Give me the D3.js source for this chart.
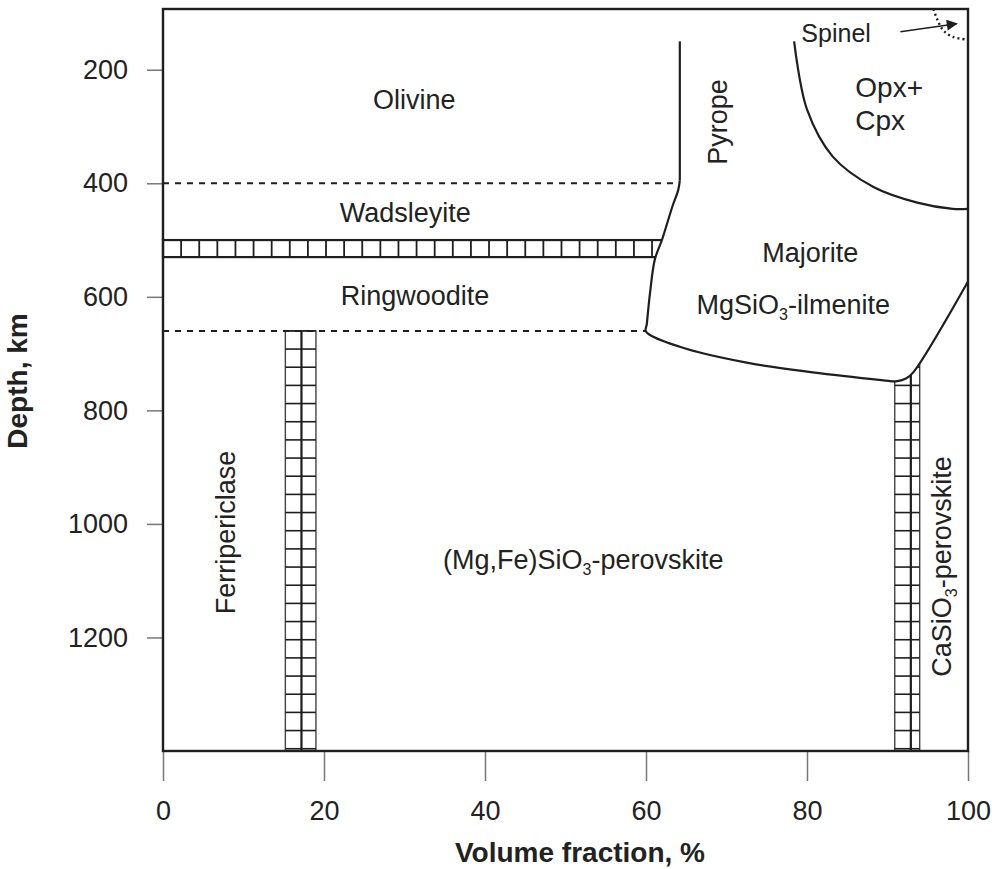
<!DOCTYPE html>
<html>
<head>
<meta charset="utf-8">
<script src="https://cdn.jsdelivr.net/npm/d3@7"></script>
<style>
  html, body { margin: 0; padding: 0; background: #fff; }
  svg text { font-family: Arial, "Liberation Sans", Helvetica, sans-serif; fill: #222; }
</style>
</head>
<body>
<div id="chart"></div>
<script>
// axis ticks
const xTicks = [0, 20, 40, 60, 80, 100];
const depthTicks = [200, 400, 600, 800, 1000, 1200];

// phase boundaries: [volume fraction %, depth km]
const pyropeLine = [[64.2, 150], [64.2, 395]];
const majoriteBoundary = [
  [64.2, 395], [64.0, 412], [63.3, 440], [62.0, 499], [61.1, 534], [60.5, 593],
  [60.1, 648], [60.0, 661], [64.2, 688], [72.5, 716], [80.7, 733],
  [89.5, 747], [91.0, 749], [92.3, 744], [93.2, 733], [100, 573]
];
const opxCpxBoundary = [
  [78.4, 150], [80.0, 270], [83.2, 353], [88.2, 406], [93.7, 434], [98.1, 445], [100, 445]
];
const spinelBoundary = [[95.7, 93], [96.2, 112], [96.9, 130], [98.1, 142], [100, 147]];
const spinelArrow = [[91.6, 133], [98.6, 119]];

// transitions drawn as dashed lines: [depth, x end]
const dashedTransitions = [[400, 64.2], [660, 60.0]];

// hatched (grid) bands
const mixBand = {top: 500, bottom: 530, x0: 0, x1: 64};
const fpColumn = {x0: 15.2, xm: 17.2, x1: 19.0, top: 660};
const caColumn = {x0: 90.9, xm: 92.9, x1: 94.0, top: 690};
const cellWidth = 2.25;   // %
const cellHeight = 32;    // km

// labels: text, x %, depth km
const labels = [
  {t: 'Olivine', x: 31.2, d: 270},
  {t: 'Wadsleyite', x: 30.1, d: 468},
  {t: 'Ringwoodite', x: 31.3, d: 615},
  {t: 'Majorite', x: 80.4, d: 538},
  {t: 'MgSiO|3|-ilmenite', x: 78.3, d: 630},
  {t: '(Mg,Fe)SiO|3|-perovskite', x: 52.2, d: 1080}
];
const rotLabels = [
  {t: 'Pyrope', x: 70.1, d: 292},
  {t: 'Ferripericlase', x: 9.0, d: 1015},
  {t: 'CaSiO|3|-perovskite', x: 97.9, d: 1075}
];

const width = 996;
const height = 869;
const margin = {top: 9, right: 28, bottom: 118, left: 163};

const svg = d3.select('#chart').append('svg')
  .attr('width', width)
  .attr('height', height);

const x = d3.scaleLinear()
  .domain([0, 100])
  .range([margin.left, width - margin.right]);

const y = d3.scaleLinear()
  .domain([93, 1400])
  .range([margin.top, height - margin.bottom]);

const ink = '#1e1e1e';

const line = d3.line()
  .x(d => x(d[0]))
  .y(d => y(d[1]));

const curve = d3.line()
  .x(d => x(d[0]))
  .y(d => y(d[1]))
  .curve(d3.curveCatmullRom.alpha(0.5));

// axes
const xAxis = d3.axisBottom(x)
  .tickValues(xTicks)
  .tickFormat(d3.format('d'))
  .tickSize(30)
  .tickPadding(20);

const yAxis = d3.axisLeft(y)
  .tickValues(depthTicks)
  .tickFormat(d3.format('d'))
  .tickSize(16)
  .tickPadding(19);

const gx = svg.append('g')
  .attr('transform', 'translate(0,' + y(1400) + ')')
  .call(xAxis);

const gy = svg.append('g')
  .attr('transform', 'translate(' + x(0) + ',0)')
  .call(yAxis);

[gx, gy].forEach(g => {
  g.select('.domain').remove();
  g.selectAll('.tick line').attr('stroke', '#777').attr('stroke-width', 1.5);
  g.selectAll('.tick text')
    .attr('font-size', 27)
    .attr('font-family', 'Arial, "Liberation Sans", sans-serif')
    .attr('fill', '#222');
});

// hatched bands
const grid = svg.append('g')
  .attr('stroke', ink)
  .attr('fill', 'none');

grid.append('rect')
  .attr('x', x(mixBand.x0))
  .attr('y', y(mixBand.top))
  .attr('width', x(mixBand.x1) - x(mixBand.x0))
  .attr('height', y(mixBand.bottom) - y(mixBand.top))
  .attr('stroke-width', 2.2);

grid.selectAll('.bandcell')
  .data(d3.range(mixBand.x0 + cellWidth, mixBand.x1, cellWidth))
  .enter().append('line')
    .attr('x1', d => x(d))
    .attr('x2', d => x(d))
    .attr('y1', y(mixBand.top))
    .attr('y2', y(mixBand.bottom))
    .attr('stroke-width', 1.8);

[fpColumn, caColumn].forEach(c => {
  const col = grid.append('g');
  col.append('rect')
    .attr('x', x(c.x0))
    .attr('y', y(c.top))
    .attr('width', x(c.x1) - x(c.x0))
    .attr('height', y(1400) - y(c.top))
    .attr('stroke', '#444')
    .attr('stroke-width', 1.4);
  col.append('line')
    .attr('x1', x(c.xm))
    .attr('x2', x(c.xm))
    .attr('y1', y(c.top))
    .attr('y2', y(1400))
    .attr('stroke-width', 2.2);
  col.selectAll('.row')
    .data(d3.range(660, 1400, cellHeight).filter(d => d >= c.top))
    .enter().append('line')
      .attr('x1', x(c.x0))
      .attr('x2', x(c.x1))
      .attr('y1', d => y(d))
      .attr('y2', d => y(d))
      .attr('stroke-width', 1.6);
});

// white mask over majorite field clips the bands
svg.append('path')
  .datum(majoriteBoundary.concat([[100, 150], [64.2, 150]]))
  .attr('d', curve)
  .attr('fill', '#fff')
  .attr('stroke', 'none');

// dashed transitions
svg.selectAll('.dashed')
  .data(dashedTransitions)
  .enter().append('line')
    .attr('x1', x(0))
    .attr('x2', d => x(d[1]))
    .attr('y1', d => y(d[0]))
    .attr('y2', d => y(d[0]))
    .attr('stroke', ink)
    .attr('stroke-width', 2)
    .attr('stroke-dasharray', '6,6');

// boundaries
svg.append('path')
  .datum(pyropeLine)
  .attr('d', line)
  .attr('fill', 'none')
  .attr('stroke', ink)
  .attr('stroke-width', 2.2);

svg.append('path')
  .datum(majoriteBoundary)
  .attr('d', curve)
  .attr('fill', 'none')
  .attr('stroke', ink)
  .attr('stroke-width', 2.2);

svg.append('path')
  .datum(opxCpxBoundary)
  .attr('d', curve)
  .attr('fill', 'none')
  .attr('stroke', ink)
  .attr('stroke-width', 2.2);

svg.append('path')
  .datum(spinelBoundary)
  .attr('d', curve)
  .attr('fill', 'none')
  .attr('stroke', ink)
  .attr('stroke-width', 2.4)
  .attr('stroke-dasharray', '2,3');

svg.append('defs').append('marker')
  .attr('id', 'arrow')
  .attr('viewBox', '0 0 10 10')
  .attr('refX', 9)
  .attr('refY', 5)
  .attr('markerWidth', 14)
  .attr('markerHeight', 11)
  .attr('markerUnits', 'userSpaceOnUse')
  .attr('orient', 'auto')
  .append('path')
    .attr('d', 'M0,0 L10,5 L0,10 Z')
    .attr('fill', ink);

svg.append('path')
  .datum(spinelArrow)
  .attr('d', line)
  .attr('stroke', ink)
  .attr('stroke-width', 1.5)
  .attr('marker-end', 'url(#arrow)');

// frame
svg.append('rect')
  .attr('x', x(0))
  .attr('y', y(93))
  .attr('width', x(100) - x(0))
  .attr('height', y(1400) - y(93))
  .attr('fill', 'none')
  .attr('stroke', ink)
  .attr('stroke-width', 2.4);

// labels with subscript parts marked by |...|
function addText (sel, str) {
  str.split('|').forEach((part, i) => {
    if (!part) return;
    if (i % 2 === 1) {
      sel.append('tspan').attr('font-size', 16).attr('dy', 6).text(part);
    } else {
      sel.append('tspan').attr('dy', i > 0 ? -6 : 0).text(part);
    }
  });
}

labels.forEach(l => {
  const t = svg.append('text')
    .attr('x', x(l.x))
    .attr('y', y(l.d))
    .attr('text-anchor', 'middle')
    .attr('font-size', 27);
  addText(t, l.t);
});

rotLabels.forEach(l => {
  const t = svg.append('text')
    .attr('transform', 'translate(' + x(l.x) + ',' + y(l.d) + ') rotate(-90)')
    .attr('text-anchor', 'middle')
    .attr('font-size', 27);
  addText(t, l.t);
});

svg.append('text')
  .attr('x', x(86.0))
  .attr('y', y(248))
  .attr('font-size', 28)
  .text('Opx+');

svg.append('text')
  .attr('x', x(86.0))
  .attr('y', y(306))
  .attr('font-size', 28)
  .text('Cpx');

svg.append('text')
  .attr('x', x(79.3))
  .attr('y', y(151))
  .attr('font-size', 25)
  .text('Spinel');

// axis titles
svg.append('text')
  .attr('x', 580)
  .attr('y', 862)
  .attr('text-anchor', 'middle')
  .attr('font-size', 28)
  .attr('font-weight', 'bold')
  .text('Volume fraction, %');

svg.append('text')
  .attr('transform', 'translate(27,381) rotate(-90)')
  .attr('text-anchor', 'middle')
  .attr('font-size', 28)
  .attr('font-weight', 'bold')
  .text('Depth, km');
</script>
</body>
</html>
